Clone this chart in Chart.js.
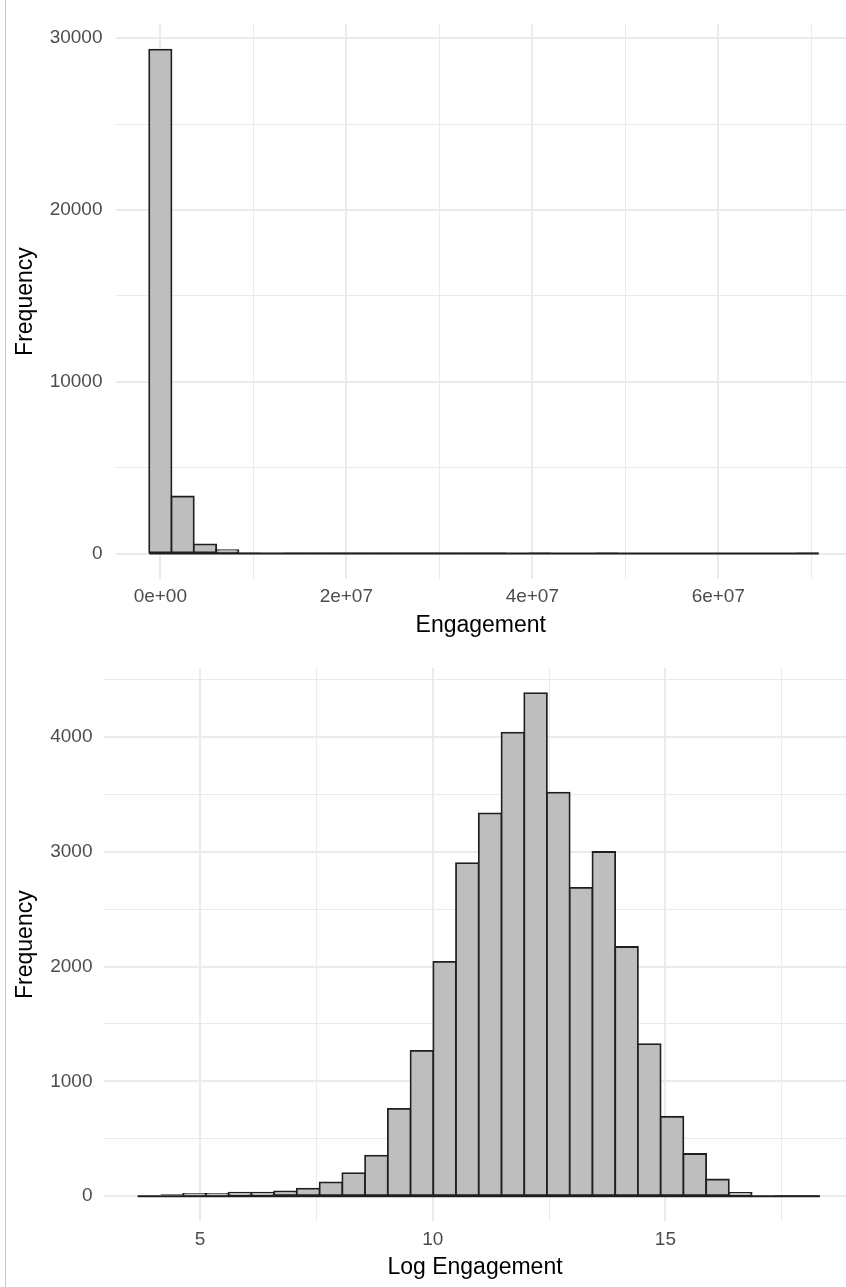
<!DOCTYPE html>
<html>
<head>
<meta charset="utf-8">
<title>Engagement histograms</title>
<script src="https://cdn.jsdelivr.net/npm/chart.js@4.4.1/dist/chart.umd.min.js"></script>
<style>
  html, body { margin: 0; padding: 0; background: #fff; }
  #page { position: relative; width: 846px; height: 1287px; overflow: hidden; }
  #edge { position: absolute; left: 5px; top: 0; width: 1px; height: 1287px; background: #c6c6c6; }
  .box { position: absolute; left: 0; width: 846px; }
  #raw-box { top: 0; height: 645px; }
  #log-box { top: 645px; height: 642px; }
</style>
</head>
<body>
<div id="page">
  <div class="box" id="raw-box"><canvas id="rawChart"></canvas></div>
  <div class="box" id="log-box"><canvas id="logChart"></canvas></div>
  <div id="edge"></div>
</div>
<script>
// --- raw engagement, 30 bins ---
const rawBinCenters = [0, 2.4e6, 4.8e6, 7.2e6, 9.6e6, 12e6, 14.4e6, 16.8e6, 19.2e6, 21.6e6,
  24e6, 26.4e6, 28.8e6, 31.2e6, 33.6e6, 36e6, 38.4e6, 40.8e6, 43.2e6, 45.6e6,
  48e6, 50.4e6, 52.8e6, 55.2e6, 57.6e6, 60e6, 62.4e6, 64.8e6, 67.2e6, 69.6e6];
const rawCounts = [29337, 3320, 536, 190, 88, 40, 18, 9, 6, 4,
  3, 2, 2, 1, 1, 1, 0, 1, 0, 0,
  1, 0, 0, 0, 0, 0, 0, 0, 0, 1];
const rawOuterEdges = [-1.2e6, 70.8e6];
const rawXTicks = [0, 1e7, 2e7, 3e7, 4e7, 5e7, 6e7, 7e7];
const rawXLabels = ['0e+00', '', '2e+07', '', '4e+07', '', '6e+07', ''];
const rawYTicks = [0, 5000, 10000, 15000, 20000, 25000, 30000];
const rawYLabels = ['0', '', '10000', '', '20000', '', '30000'];

// --- log engagement, 30 bins ---
const logBinCenters = [3.905, 4.394, 4.882, 5.371, 5.859, 6.348, 6.837, 7.325, 7.814, 8.302,
  8.791, 9.280, 9.768, 10.257, 10.745, 11.234, 11.723, 12.211, 12.700, 13.188,
  13.677, 14.166, 14.654, 15.143, 15.631, 16.120, 16.609, 17.097, 17.586, 18.074];
const logCounts = [10, 17, 20, 20, 32, 32, 43, 66, 121, 201,
  353, 761, 1266, 2041, 2900, 3333, 4037, 4381, 3514, 2684,
  2997, 2170, 1324, 692, 368, 146, 29, 6, 2, 1];
const logOuterEdges = [3.66, 18.32];
const logXTicks = [5, 7.5, 10, 12.5, 15, 17.5];
const logXLabels = ['5', '', '10', '', '15', ''];
const logYTicks = [0, 500, 1000, 1500, 2000, 2500, 3000, 3500, 4000, 4500];
const logYLabels = ['0', '', '1000', '', '2000', '', '3000', '', '4000', ''];

Chart.defaults.font.family = '"Liberation Sans", Arial, Helvetica, sans-serif';

// bars only a pixel or two tall are drawn as plain outline, no inflation
function barInflate(c) {
  const y = c.chart.scales.y;
  if (!y || !c.parsed) return 0.9;
  const h = y.getPixelForValue(0) - y.getPixelForValue(c.parsed.y);
  return h > 2 ? 0.9 : 0;
}

function histogram(id, s) {
  return new Chart(document.getElementById(id), {
    type: 'bar',
    data: {
      datasets: [{
        // zero-height bins still show their outline along the baseline
        type: 'line',
        data: s.edges.map(x => ({ x: x, y: 0 })),
        borderColor: '#1f1f1f',
        borderWidth: 1.8,
        pointRadius: 0,
        order: 0
      }, {
        data: s.centers.map((x, i) => ({ x: x, y: s.counts[i] })),
        backgroundColor: '#bebebe',
        borderColor: '#1f1f1f',
        borderWidth: 1.8,
        borderSkipped: false,
        inflateAmount: barInflate,
        barPercentage: 1,
        categoryPercentage: 1,
        order: 1
      }]
    },
    options: {
      responsive: true,
      maintainAspectRatio: false,
      animation: false,
      layout: { padding: { top: s.padTop, left: 0, right: 0, bottom: 0 } },
      plugins: { legend: { display: false }, tooltip: { enabled: false } },
      scales: {
        x: {
          type: 'linear',
          min: s.xMin,
          max: s.xMax,
          offset: false,
          grid: {
            offset: false,
            drawTicks: false,
            color: '#ebebeb',
            lineWidth: c => (s.xLabels[c.index] ? 2 : 1)
          },
          border: { display: false },
          afterBuildTicks: sc => { sc.ticks = s.xTicks.map(v => ({ value: v })); },
          afterFit: sc => { sc.height = s.xAxisHeight; },
          ticks: {
            autoSkip: false,
            maxRotation: 0,
            padding: 7,
            color: '#4d4d4d',
            font: { size: 19 },
            callback: (v, i) => s.xLabels[i]
          },
          title: {
            display: true,
            text: s.xTitle,
            color: '#000',
            font: { size: 23 },
            padding: { top: 0, bottom: 5.5 }
          }
        },
        y: {
          min: s.yMin,
          max: s.yMax,
          grid: {
            drawTicks: false,
            color: '#ebebeb',
            lineWidth: c => (s.yLabels[c.index] ? 2 : 1)
          },
          border: { display: false },
          afterBuildTicks: sc => { sc.ticks = s.yTicks.map(v => ({ value: v })); },
          afterFit: sc => { sc.width = s.yAxisWidth; },
          ticks: {
            autoSkip: false,
            padding: s.yTickPad,
            color: '#4d4d4d',
            font: { size: 19 },
            callback: (v, i) => s.yLabels[i]
          },
          title: {
            display: true,
            text: 'Frequency',
            color: '#000',
            font: { size: 23 },
            padding: { top: 12, bottom: 0 }
          }
        }
      }
    }
  });
}

histogram('rawChart', {
  centers: rawBinCenters, counts: rawCounts, edges: rawOuterEdges,
  xTicks: rawXTicks, xLabels: rawXLabels, yTicks: rawYTicks, yLabels: rawYLabels,
  xMin: -4.82e6, xMax: 7.373e7, yMin: -1467, yMax: 30804,
  xTitle: 'Engagement', padTop: 19.5, xAxisHeight: 66.3, yAxisWidth: 115.5, yTickPad: 13
});

histogram('logChart', {
  centers: logBinCenters, counts: logCounts, edges: logOuterEdges,
  xTicks: logXTicks, xLabels: logXLabels, yTicks: logYTicks, yLabels: logYLabels,
  xMin: 2.937, xMax: 18.881, yMin: -219, yMax: 4600,
  xTitle: 'Log Engagement', padTop: 16.9, xAxisHeight: 65.6, yAxisWidth: 104, yTickPad: 11.5
});
</script>
</body>
</html>
